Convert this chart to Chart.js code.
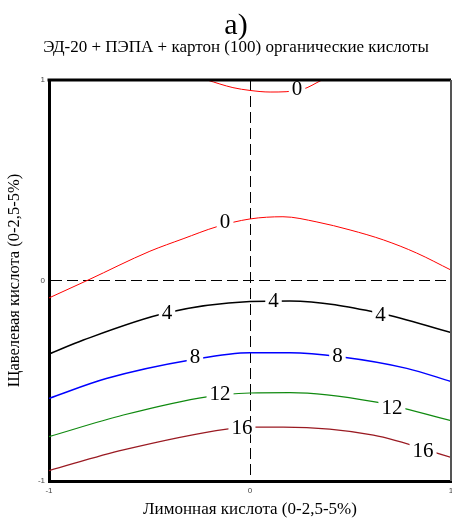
<!DOCTYPE html>
<html>
<head>
<meta charset="utf-8">
<script src="https://cdn.jsdelivr.net/npm/chart.js@4/dist/chart.umd.min.js"></script>
<style>
  html, body { margin: 0; padding: 0; background: #fff; }
  #wrap { width: 452px; height: 518px; }
</style>
</head>
<body>
<div id="wrap"><canvas id="c" width="452" height="518"></canvas></div>
<script>
// Coded factor levels on both axes
const axisTicks = [-1, 0, 1];

// Contour lines of the response surface (x = citric acid, y = oxalic acid)
const level0TopX = [-0.214, -0.085, 0, 0.10, 0.259, 0.358];
const level0TopY = [1.0, 0.962, 0.948, 0.940, 0.953, 1.0];

const level0X = [-1, -0.806, -0.498, -0.333, -0.166, 0, 0.164, 0.333, 0.498, 0.665, 0.829, 1];
const level0Y = [-0.087, 0.002, 0.146, 0.208, 0.268, 0.307, 0.318, 0.292, 0.252, 0.202, 0.137, 0.052];

const level4X = [-1, -0.829, -0.414, 0, 0.199, 0.647, 1];
const level4Y = [-0.367, -0.297, -0.161, -0.105, -0.102, -0.163, -0.260];

const level8X = [-1, -0.715, -0.282, 0, 0.199, 0.448, 0.78, 1];
const level8Y = [-0.588, -0.489, -0.394, -0.360, -0.360, -0.380, -0.438, -0.504];

const level12X = [-1, -0.630, -0.215, 0, 0.199, 0.614, 1];
const level12Y = [-0.779, -0.671, -0.580, -0.561, -0.559, -0.604, -0.699];

const level16X = [-1, -0.630, -0.116, 0, 0.166, 0.614, 1];
const level16Y = [-0.948, -0.845, -0.741, -0.731, -0.731, -0.771, -0.882];

// Level labels placed on the contour lines
const labelText = ['0', '0', '4', '4', '4', '8', '8', '12', '12', '16', '16'];
const labelX = [0.234, -0.124, -0.413, 0.117, 0.649, -0.274, 0.435, -0.149, 0.706, -0.040, 0.861];
const labelY = [0.960, 0.292, -0.159, -0.100, -0.170, -0.380, -0.375, -0.562, -0.635, -0.733, -0.846];

const pts = (xs, ys) => xs.map((x, i) => ({ x: x, y: ys[i] }));

function line(xs, ys, color, width) {
  return {
    data: pts(xs, ys),
    showLine: true,
    borderColor: color,
    borderWidth: width,
    pointRadius: 0,
    cubicInterpolationMode: 'monotone',
    fill: false
  };
}

// Writes the level numbers on a white patch that breaks the line,
// then closes the frame on the top and right sides
const contourLabels = {
  id: 'contourLabels',
  afterDatasetsDraw(chart) {
    const ctx = chart.ctx;
    const xs = chart.scales.x, ys = chart.scales.y;
    ctx.save();
    ctx.font = '21px "Liberation Serif", "Times New Roman", serif';
    ctx.textAlign = 'center';
    ctx.textBaseline = 'middle';
    labelText.forEach((t, i) => {
      const px = xs.getPixelForValue(labelX[i]);
      const py = ys.getPixelForValue(labelY[i]);
      const w = ctx.measureText(t).width;
      ctx.fillStyle = '#fff';
      ctx.fillRect(px - w / 2 - 3, py - 7, w + 6, 14);
      ctx.fillStyle = '#000';
      ctx.fillText(t, px, py + 1);
    });
    ctx.restore();
  },
  afterDraw(chart) {
    const ctx = chart.ctx;
    const a = chart.chartArea;
    ctx.save();
    ctx.strokeStyle = '#000';
    ctx.lineWidth = 3;
    ctx.beginPath();
    ctx.moveTo(a.left - 1.5, a.top);
    ctx.lineTo(a.right, a.top);
    ctx.stroke();
    ctx.strokeStyle = '#555';
    ctx.lineWidth = 2;
    ctx.beginPath();
    ctx.moveTo(a.right, a.top);
    ctx.lineTo(a.right, a.bottom);
    ctx.stroke();
    ctx.restore();
  }
};

const serif = '"Liberation Serif", "Times New Roman", serif';
const tickFont = { family: '"Liberation Sans", Arial, sans-serif', size: 8 };
const zeroGrid = c => (c.tick && c.tick.value === 0) ? '#000' : 'rgba(0,0,0,0)';

new Chart(document.getElementById('c'), {
  type: 'scatter',
  data: {
    datasets: [
      line(level0TopX, level0TopY, '#ff0000', 1),
      line(level0X, level0Y, '#ff0000', 1),
      line(level4X, level4Y, '#000000', 1.5),
      line(level8X, level8Y, '#0000ff', 1.4),
      line(level12X, level12Y, '#108a10', 1.2),
      line(level16X, level16Y, '#9a1a22', 1.3)
    ]
  },
  options: {
    responsive: false,
    animation: false,
    devicePixelRatio: 1,
    layout: { padding: { left: 21, right: 1, top: 0, bottom: 0 } },
    plugins: {
      legend: { display: false },
      tooltip: { enabled: false },
      title: {
        display: true,
        text: 'а)',
        color: '#000',
        font: { family: serif, size: 30, weight: 'normal', lineHeight: 0.8 },
        padding: { top: 14, bottom: 0 }
      },
      subtitle: {
        display: true,
        text: 'ЭД-20 + ПЭПА + картон (100) органические кислоты',
        color: '#000',
        font: { family: serif, size: 17, weight: 'normal', lineHeight: 1 },
        padding: { top: 1, bottom: 24 }
      }
    },
    scales: {
      x: {
        type: 'linear',
        min: -1, max: 1,
        afterBuildTicks: s => { s.ticks = axisTicks.map(v => ({ value: v })); },
        afterFit: s => { s.height = 37; s.paddingLeft = 0; s.paddingRight = 0; },
        ticks: { font: tickFont, color: '#444', padding: 5, autoSkip: false, maxRotation: 0 },
        grid: { drawTicks: false, color: zeroGrid, lineWidth: 1 },
        border: { display: true, width: 3, color: '#000', dash: [11, 5] },
        title: {
          display: true,
          text: 'Лимонная кислота (0-2,5-5%)',
          color: '#000',
          font: { family: serif, size: 17, lineHeight: 1 },
          padding: { top: 0, bottom: 0 }
        }
      },
      y: {
        type: 'linear',
        min: -1, max: 1,
        afterBuildTicks: s => { s.ticks = axisTicks.map(v => ({ value: v })); },
        afterFit: s => { s.width = 28; s.paddingTop = 0; s.paddingBottom = 0; },
        ticks: { font: tickFont, color: '#444', padding: 4, autoSkip: false },
        grid: { drawTicks: false, color: zeroGrid, lineWidth: 1 },
        border: { display: true, width: 3, color: '#000', dash: [11, 5] },
        title: {
          display: true,
          text: 'Щавелевая кислота (0-2,5-5%)',
          color: '#000',
          font: { family: serif, size: 16.5, lineHeight: 1 },
          padding: { top: -14.8, bottom: 0 }
        }
      }
    }
  },
  plugins: [contourLabels]
});
</script>
</body>
</html>
